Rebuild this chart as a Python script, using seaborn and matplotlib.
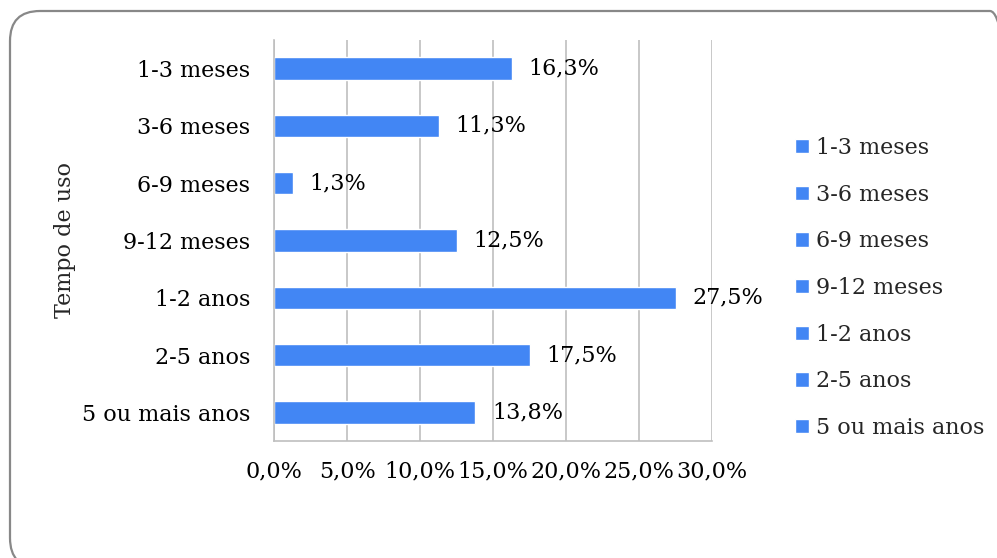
import matplotlib
matplotlib.use("Agg")
import matplotlib.pyplot as plt
import seaborn as sns
import pandas as pd
from matplotlib.patches import FancyBboxPatch
from matplotlib.transforms import IdentityTransform

categories = ["1-3 meses", "3-6 meses", "6-9 meses", "9-12 meses", "1-2 anos", "2-5 anos", "5 ou mais anos"]
values = [16.3, 11.3, 1.3, 12.5, 27.5, 17.5, 13.8]
value_labels = ["16,3%", "11,3%", "1,3%", "12,5%", "27,5%", "17,5%", "13,8%"]
xticks = [0, 5, 10, 15, 20, 25, 30]
xtick_labels = ["0,0%", "5,0%", "10,0%", "15,0%", "20,0%", "25,0%", "30,0%"]
ylabel = "Tempo de uso"

bar_color = "#4286F4"
grid_color = "#BFBFBF"
FS = 16

sns.set_style("white")
plt.rcParams['font.family'] = ['DejaVu Serif']

df = pd.DataFrame({"cat": categories, "val": values})

W, H = 997, 558
fig = plt.figure(figsize=(9.97, 5.58), dpi=100)

# rounded border in pixel coordinates (extends past the right/bottom edges)
border = FancyBboxPatch((10, H - 568), 1010, 557,
                        boxstyle="round,pad=0,rounding_size=30",
                        transform=IdentityTransform(),
                        fill=False, edgecolor="#888888", linewidth=1.6)
fig.patches.append(border)

ax = fig.add_axes([274 / W, 1 - 441 / H, (712 - 274) / W, (441 - 40) / H])
ax.patch.set_alpha(0)

sns.barplot(data=df, x="val", y="cat", hue="cat", order=categories, hue_order=categories,
            palette=[bar_color] * len(categories), width=0.39, ax=ax, legend=True, dodge=False,
            saturation=1)

ax.set_xlim(0, 30)
ax.set_xticks(xticks)
ax.set_xticklabels(xtick_labels)
ax.xaxis.grid(True, color=grid_color, linewidth=1.2)
ax.set_axisbelow(True)
for s in ["top", "right"]:
    ax.spines[s].set_visible(False)
for s in ["left", "bottom"]:
    ax.spines[s].set_color(grid_color)
    ax.spines[s].set_linewidth(1.2)
ax.tick_params(axis="x", length=0, pad=14, labelsize=FS, colors="black")
ax.tick_params(axis="y", length=0, pad=17, labelsize=FS, colors="black")
ax.set_xlabel("")
ax.set_ylabel(ylabel, fontsize=FS, labelpad=4)

for i, (v, lab) in enumerate(zip(values, value_labels)):
    ax.annotate(lab, xy=(v, i), xytext=(12, 0), textcoords="offset points", va="center",
                ha="left", fontsize=FS, color="black")

handles, labels = ax.get_legend_handles_labels()
ax.legend(handles, labels, loc="upper left", bbox_to_anchor=(795 / W, 1 - 137 / H),
          bbox_transform=fig.transFigure, frameon=False, fontsize=FS,
          handlelength=0.63, handleheight=0.63, handletextpad=0.3, labelspacing=1.11,
          borderaxespad=0, borderpad=0)

fig.savefig("out.png", dpi=100)
